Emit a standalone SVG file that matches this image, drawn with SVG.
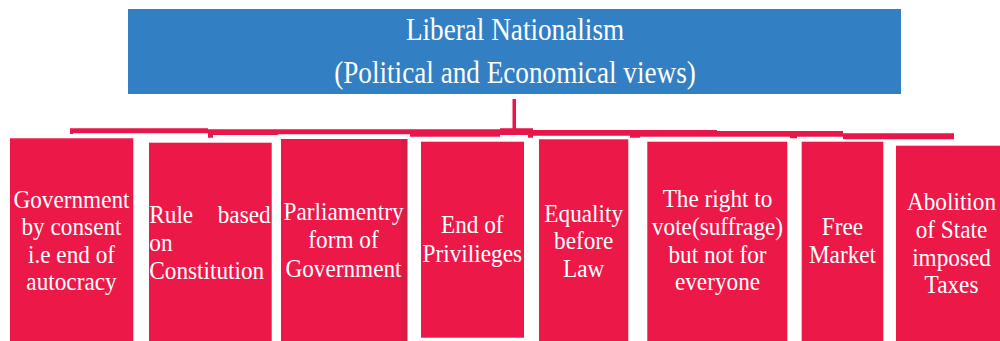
<svg xmlns="http://www.w3.org/2000/svg" width="1000" height="341" viewBox="0 0 1000 341">
<style>
.bg{fill:#FFFFFF}
.head{fill:#3280C3}
.box{fill:#EC1848}
.edge{fill:#D91B46}
.conn{fill:#E8174A}
.t{font-family:"Liberation Serif","Times New Roman",serif;fill:#FFFFFF}
.tt{font-size:32px}
.bt{font-size:25px}
</style>
<rect class="bg" x="0" y="0" width="1000" height="341"/>
<g id="connectors">
<rect class="conn" x="512.5" y="99" width="3.5" height="31"/>
<path class="conn" d="M70,128.3 L208,128.3 L208,129.3 L500,129.3 L500,128.3 L533,128.3 L533,130 L717,130 L717,131 L843,131 L843,133.3 L954,133.3 L954,139.3 L950,139.3 L950,139.3 L843,139.3 L843,136.7 L797,136.7 L797,138.3 L790,138.3 L790,136.7 L640,136.7 L640,137.7 L630,137.7 L630,135.7 L533,135.7 L533,137.7 L528,137.7 L528,135 L500,135 L500,136.7 L410,136.7 L410,134.3 L278,134.3 L278,135 L213,135 L213,137.7 L208,137.7 L208,133.3 L73,133.3 L73,134 L70,134 Z"/>
</g>
<g id="root">
<rect class="head" x="128" y="9" width="773" height="85"/>
<text class="t tt" text-anchor="middle" transform="translate(515 0) scale(0.85 1)"><tspan x="0" y="40">Liberal Nationalism</tspan><tspan x="0" y="83">(Political and Economical views)</tspan></text>
</g>
<g id="n1">
<rect class="box" x="10" y="138.3" width="123.3" height="202.7"/>
<text class="t bt" text-anchor="middle" transform="translate(71.5 0) scale(0.93 1)"><tspan x="0" y="208">Government</tspan><tspan x="0" y="235.5">by consent</tspan><tspan x="0" y="263">i.e end of</tspan><tspan x="0" y="290.5">autocracy</tspan></text>
</g>
<g id="n2">
<rect class="box" x="149" y="142.7" width="122.7" height="198.3"/>
<text class="t bt" transform="translate(149.3 0) scale(0.93 1)"><tspan x="0" y="223.3">Rule</tspan><tspan x="130.5" y="223.3" text-anchor="end">based</tspan><tspan x="0" y="251">on</tspan><tspan x="0" y="279.3">Constitution</tspan></text>
</g>
<g id="n3">
<rect class="box" x="281" y="139" width="126.3" height="202"/>
<rect class="edge" x="401.7" y="139" width="5.6" height="202"/>
<text class="t bt" text-anchor="middle" transform="translate(343.5 0) scale(0.93 1)"><tspan x="0" y="220">Parliamentry</tspan><tspan x="0" y="248.3">form of</tspan><tspan x="0" y="276.7">Government</tspan></text>
</g>
<g id="n4">
<rect class="box" x="421" y="141.7" width="103" height="196"/>
<text class="t bt" text-anchor="middle" transform="translate(472.3 0) scale(0.93 1)"><tspan x="0" y="233.3">End of</tspan><tspan x="0" y="261.7">Privilieges</tspan></text>
</g>
<g id="n5">
<rect class="box" x="539" y="139.3" width="89.3" height="201.7"/>
<text class="t bt" text-anchor="middle" transform="translate(583.7 0) scale(0.93 1)"><tspan x="0" y="221.7">Equality</tspan><tspan x="0" y="249">before</tspan><tspan x="0" y="276.7">Law</tspan></text>
</g>
<g id="n6">
<rect class="box" x="647.3" y="141.7" width="140" height="199.3"/>
<text class="t bt" text-anchor="middle" transform="translate(717.5 0) scale(0.93 1)"><tspan x="0" y="206.7">The right to</tspan><tspan x="0" y="235">vote(suffrage)</tspan><tspan x="0" y="262.7">but not for</tspan><tspan x="0" y="290">everyone</tspan></text>
</g>
<g id="n7">
<rect class="box" x="801.7" y="141.7" width="81.6" height="199.3"/>
<text class="t bt" text-anchor="middle" transform="translate(842.5 0) scale(0.93 1)"><tspan x="0" y="235">Free</tspan><tspan x="0" y="263.3">Market</tspan></text>
</g>
<g id="n8">
<rect class="box" x="896" y="145.7" width="104" height="195.3"/>
<text class="t bt" text-anchor="middle" transform="translate(951.5 0) scale(0.93 1)"><tspan x="0" y="210">Abolition</tspan><tspan x="0" y="238.3">of State</tspan><tspan x="0" y="266">imposed</tspan><tspan x="0" y="293.3">Taxes</tspan></text>
</g>
</svg>
